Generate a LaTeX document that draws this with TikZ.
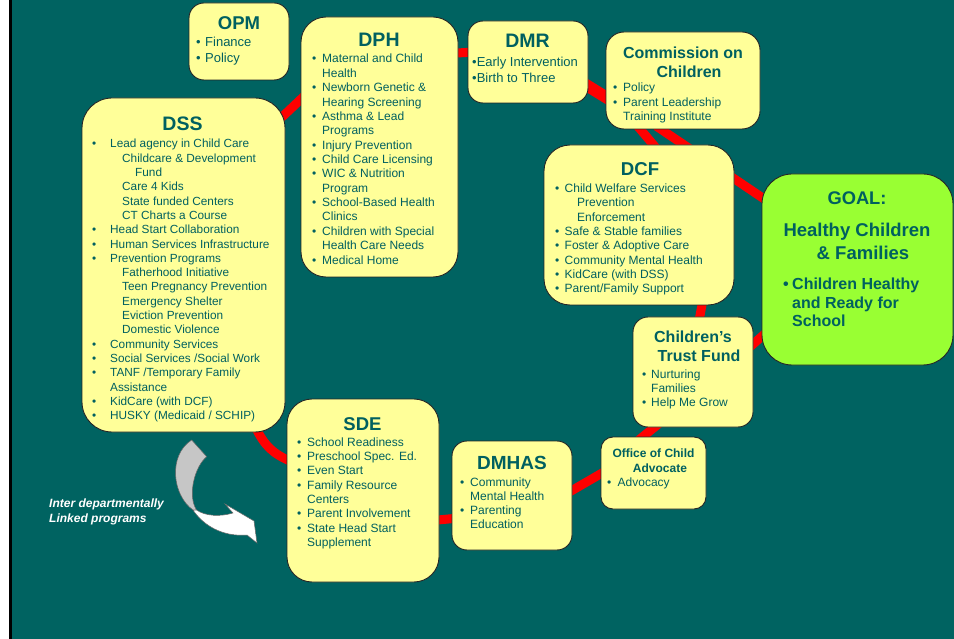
\documentclass[tikz,border=0pt]{standalone}
\usepackage{fontspec}
\setmainfont{Liberation Sans}
\usetikzlibrary{backgrounds}

\definecolor{bgteal}{RGB}{0,99,97}
\definecolor{boxyellow}{RGB}{255,255,153}
\definecolor{goalgreen}{RGB}{153,255,51}
\definecolor{inkteal}{RGB}{0,96,96}

\newcommand{\fsz}[2]{\fontsize{#1}{#2}\selectfont}
\newcommand{\itm}[2][10pt]{\makebox[#1][l]{\textbullet}#2}
\newcommand{\indsp}[1][10pt]{\hspace*{#1}}

\tikzset{
  dept/.style={draw=black!85, line width=0.9pt, fill=boxyellow, rounded corners=#1, inner sep=0pt},
  dept/.default=15pt,
  head/.style={text=inkteal, inner sep=0pt, anchor=base, font=\bfseries},
  items/.style={text=inkteal, inner sep=0pt, anchor=base west},
  link/.style={draw=red, line width=9pt, shorten <=-6pt, shorten >=-6pt},
}

\begin{document}
\begin{tikzpicture}[x=1pt, y=-1pt]
  \useasboundingbox (0,0) rectangle (954,639);

  % agencies
  \node[dept=15pt, minimum width=100pt, minimum height=77pt] (opm) at (239,41.5) {};
  \node[dept=25pt, minimum width=157pt, minimum height=260pt] (dph) at (379.5,147) {};
  \node[dept=15pt, minimum width=120pt, minimum height=82pt] (dmr) at (528,62) {};
  \node[dept=18pt, minimum width=154pt, minimum height=97pt] (com) at (683,80.5) {};
  \node[dept=30pt, minimum width=203pt, minimum height=334pt] (dss) at (183.5,265) {};
  \node[dept=26pt, minimum width=190pt, minimum height=160pt] (dcf) at (639,225) {};
  \node[dept=30pt, fill=goalgreen, minimum width=191pt, minimum height=191pt] (goal) at (857.5,269.5) {};
  \node[dept=15pt, minimum width=120pt, minimum height=110pt] (ctf) at (693,372) {};
  \node[dept=12pt, minimum width=105pt, minimum height=72pt] (oca) at (653.5,473) {};
  \node[dept=15pt, minimum width=120pt, minimum height=109pt] (dmhas) at (512,495.5) {};
  \node[dept=25pt, minimum width=152pt, minimum height=183pt] (sde) at (363,490.5) {};

  % OPM
  \node[head] (opm-t) at (239,30) {\fsz{18.5}{22}OPM};
  \node[items] (opm-l) at (196,47) {\parbox[t]{90pt}{\fsz{13}{16}%
    \itm[9pt]{Finance}\\
    \itm[9pt]{Policy}}};

  % DPH
  \node[head] (dph-t) at (379,47) {\fsz{19.5}{23}DPH};
  \node[items] (dph-l) at (312,63) {\parbox[t]{150pt}{\fsz{12}{14.36}%
    \itm{Maternal and Child}\\
    \indsp Health\\
    \itm{Newborn Genetic \&}\\
    \indsp Hearing Screening\\
    \itm{Asthma \& Lead}\\
    \indsp Programs\\
    \itm{Injury Prevention}\\
    \itm{Child Care Licensing}\\
    \itm{WIC \& Nutrition}\\
    \indsp Program\\
    \itm{School-Based Health}\\
    \indsp Clinics\\
    \itm{Children with Special}\\
    \indsp Health Care Needs\\
    \itm{Medical Home}}};

  % DMR
  \node[head] (dmr-t) at (527.5,48) {\fsz{19.5}{23}DMR};
  \node[items] (dmr-l) at (472,67) {\parbox[t]{115pt}{\fsz{13}{16}%
    \textbullet Early Intervention\\
    \textbullet Birth to Three}};

  % Commission on Children
  \node[head] (com-t) at (683,59) {\parbox[t]{150pt}{\centering\fsz{16}{19}%
    Commission on\\\hspace*{12pt}Children}};
  \node[items] (com-l) at (613,92) {\parbox[t]{140pt}{\fsz{12}{14.3}%
    \itm{Policy}\\
    \itm{Parent Leadership}\\
    \indsp Training Institute}};

  % DSS
  \node[head] (dss-t) at (182.5,131) {\fsz{19.5}{23}DSS};
  \node[items] (dss-l) at (92,148) {\parbox[t]{195pt}{\fsz{11.8}{14.3}%
    \itm[18pt]{Lead agency in Child Care}\\
    \indsp[30pt]Childcare \& Development\\
    \indsp[43pt]Fund\\
    \indsp[30pt]Care 4 Kids\\
    \indsp[30pt]State funded Centers\\
    \indsp[30pt]CT Charts a Course\\
    \itm[18pt]{Head Start Collaboration}\\
    \itm[18pt]{Human Services Infrastructure}\\
    \itm[18pt]{Prevention Programs}\\
    \indsp[30pt]Fatherhood Initiative\\
    \indsp[30pt]Teen Pregnancy Prevention\\
    \indsp[30pt]Emergency Shelter\\
    \indsp[30pt]Eviction Prevention\\
    \indsp[30pt]Domestic Violence\\
    \itm[18pt]{Community Services}\\
    \itm[18pt]{Social Services /Social Work}\\
    \itm[18pt]{TANF /Temporary Family}\\
    \indsp[18pt]Assistance\\
    \itm[18pt]{KidCare (with DCF)}\\
    \itm[18pt]{HUSKY (Medicaid / SCHIP)}}};

  % DCF
  \node[head] (dcf-t) at (640,176) {\fsz{18.6}{22}DCF};
  \node[items] (dcf-l) at (555,192.7) {\parbox[t]{175pt}{\fsz{12}{14.3}%
    \itm[9.5pt]{Child Welfare Services}\\
    \indsp[22pt]Prevention\\
    \indsp[22pt]Enforcement\\
    \itm[9.5pt]{Safe \& Stable families}\\
    \itm[9.5pt]{Foster \& Adoptive Care}\\
    \itm[9.5pt]{Community Mental Health}\\
    \itm[9.5pt]{KidCare (with DSS)}\\
    \itm[9.5pt]{Parent/Family Support}}};

  % goal
  \node[head] (goal-t) at (857,205) {\fsz{18.3}{22}GOAL:};
  \node[head] (goal-s) at (857,237) {\parbox[t]{180pt}{\centering\fsz{18.5}{23}%
    Healthy Children\\\hspace*{12pt}\& Families}};
  \node[items, font=\bfseries] (goal-l) at (783,290) {\parbox[t]{160pt}{\fsz{16}{18.5}%
    \itm[9pt]{Children Healthy}\\
    \indsp[9pt]and Ready for\\
    \indsp[9pt]School}};

  % Children's Trust Fund
  \node[head] (ctf-t) at (693,343) {\parbox[t]{115pt}{\centering\fsz{16}{19}%
    Children’s\\\hspace*{12pt}Trust Fund}};
  \node[items] (ctf-l) at (642,378) {\parbox[t]{110pt}{\fsz{12}{14.3}%
    \itm[9pt]{Nurturing}\\
    \indsp[9pt]Families\\
    \itm[9pt]{Help Me Grow}}};

  % Office of Child Advocate
  \node[head] (oca-t) at (653.5,457) {\parbox[t]{100pt}{\centering\fsz{12}{15}%
    Office of Child\\\hspace*{13pt}Advocate}};
  \node[items] (oca-l) at (607,486) {\parbox[t]{95pt}{\fsz{12}{14.3}%
    \itm[10.5pt]{Advocacy}}};

  % DMHAS
  \node[head] (dmhas-t) at (512,469) {\fsz{19}{23}DMHAS};
  \node[items] (dmhas-l) at (460,486) {\parbox[t]{110pt}{\fsz{12}{14.3}%
    \itm{Community}\\
    \indsp Mental Health\\
    \itm{Parenting}\\
    \indsp Education}};

  % SDE
  \node[head] (sde-t) at (362.5,430) {\fsz{18.5}{22}SDE};
  \node[items] (sde-l) at (297,446) {\parbox[t]{140pt}{\fsz{12}{14.4}%
    \itm{School Readiness}\\
    \itm{Preschool Spec. Ed.}\\
    \itm{Even Start}\\
    \itm{Family Resource}\\
    \indsp Centers\\
    \itm{Parent Involvement}\\
    \itm{State Head Start}\\
    \indsp Supplement}};

  % curved arrow and its label
  \fill[gray!45, draw=black!60, line width=0.5pt] (191.7,440) -- (206.7,456.7)
    .. controls (195,466) and (187,495) .. (196.5,510) -- (193,510)
    .. controls (172,495) and (168,455) .. cycle;
  \fill[white, draw=black!60, line width=0.5pt] (193,510)
    .. controls (203,525) and (222,537) .. (247,535) -- (257,543) -- (254,521)
    -- (225,504) -- (233,513) .. controls (220,517) and (205,516) .. (196.5,510) -- cycle;
  \node[items, text=white, font=\bfseries\itshape] (linked) at (49,507.7)
    {\parbox[t]{130pt}{\fsz{12}{15}Inter departmentally\\Linked programs}};

  \begin{scope}[on background layer]
    \fill[white] (0,0) rectangle (954,639);
    \fill[bgteal] (9,0) rectangle (954,639);
    \fill[black] (9,0) rectangle (12,639);
    % red ring
    \draw[link] (dss.56) -- (dph.149);
    \draw[link] (dph.50) -- (dmr.171);
    \draw[link, line width=12pt] (dmr.-22) -- (com.192);
    \draw[link] (com.229) -- (dcf.80);
    \draw[link] (com.246) -- (goal.143);
    \draw[link] (dcf.-52) -- (ctf.83);
    \draw[link] (ctf.25) -- (goal.215);
    \draw[link] (ctf.235) -- (oca.106);
    \draw[link] (oca.181) -- (dmhas.5);
    \draw[link] (dmhas.201) -- (sde.-21);
    \draw[link] (dss.294) to[bend right=20] (sde.158);
  \end{scope}
\end{tikzpicture}
\end{document}
